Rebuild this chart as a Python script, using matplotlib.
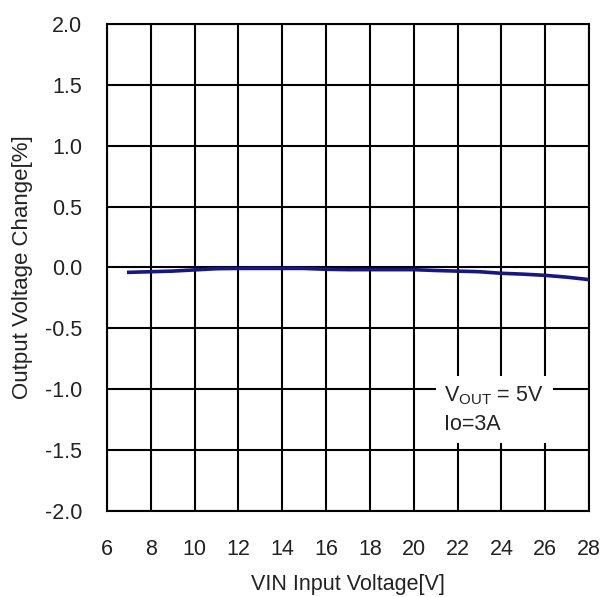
import numpy as np
import matplotlib
matplotlib.use("Agg")
from matplotlib import pyplot as plt

plt.rcParams["font.family"] = ["Liberation Sans", "DejaVu Sans"]

# Input voltage [V] and output voltage change [%]
vin = [7, 8, 9, 10, 11, 12, 13, 14, 15, 16, 17, 18, 19, 20, 21, 22, 23, 24, 25, 26, 27, 28]
dvout = [-0.04, -0.035, -0.03, -0.02, -0.01, -0.008, -0.008, -0.008, -0.008, -0.015, -0.018, -0.018,
         -0.018, -0.018, -0.025, -0.03, -0.035, -0.048, -0.055, -0.065, -0.08, -0.1]

x_ticks = np.arange(6, 29, 2)
y_ticks = np.arange(-2.0, 2.01, 0.5)

fig = plt.figure(figsize=(6.0, 5.97), dpi=100)
ax = fig.add_axes([0.178, 0.144, 0.804, 0.816])

ax.plot(vin, dvout, color="#16168c", linewidth=2.6, zorder=3)

ax.set_xlim(6, 28)
ax.set_ylim(-2.0, 2.0)
ax.set_xticks(x_ticks)
ax.set_yticks(y_ticks)
ax.set_yticklabels([f"{v:.1f}" for v in y_ticks])
ax.grid(True, color="black", linewidth=1.5)
for s in ax.spines.values():
    s.set_linewidth(1.5)
ax.tick_params(length=0, labelsize=15.5, colors="#222222")
ax.tick_params(axis="x", pad=20)
ax.tick_params(axis="y", pad=17.5)

ax.set_xlabel("VIN Input Voltage[V]", fontsize=15.5, labelpad=10, color="#222222")
ax.set_ylabel("Output Voltage Change[%]", fontsize=16, labelpad=9, color="#222222")

ax.text(0.70, 0.208, "V$_{\\mathregular{OUT}}$ = 5V\nIo=3A", transform=ax.transAxes,
        fontsize=15.5, va="center", ha="left", linespacing=1.4, color="#222222",
        bbox=dict(facecolor="white", edgecolor="none", pad=6), zorder=4)

fig.savefig("out.png", dpi=100)
